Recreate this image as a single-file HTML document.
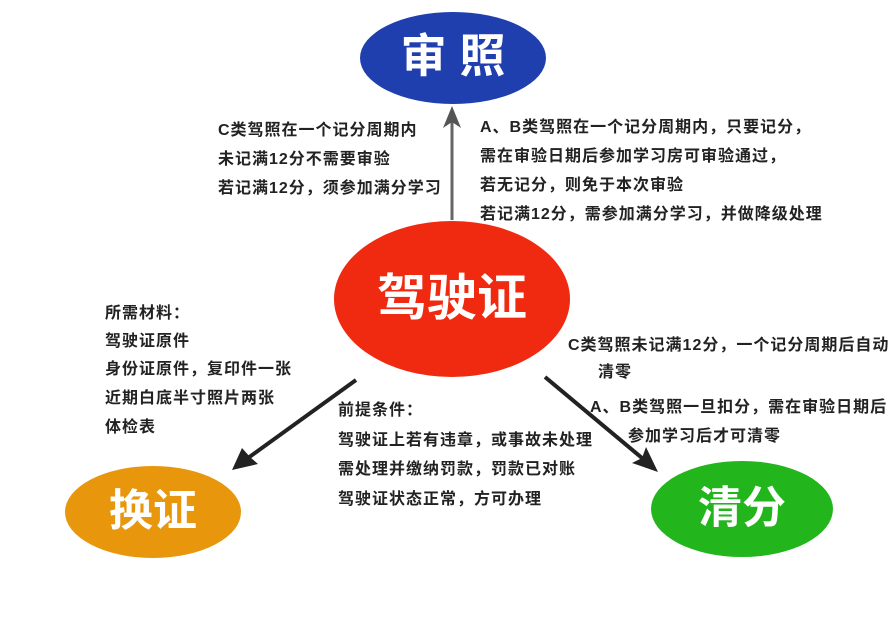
<!DOCTYPE html>
<html><head><meta charset="utf-8"><style>
body{margin:0;background:#fff;}
svg text{font-family:"Liberation Sans","Noto Sans CJK SC",sans-serif;}
.t{font-size:16px;font-weight:bold;fill:#222;dominant-baseline:middle;letter-spacing:1px;}
.big{font-weight:bold;fill:#fff;dominant-baseline:middle;text-anchor:middle;}
</style></head><body>
<svg width="896" height="616" viewBox="0 0 896 616" xmlns="http://www.w3.org/2000/svg">
<ellipse cx="453" cy="58" rx="93" ry="46" fill="#1f3fae"/>
<text class="big" x="453" y="60" font-size="46">审 照</text>
<ellipse cx="452" cy="299" rx="118" ry="78" fill="#f02a10"/>
<text class="big" x="452" y="302" font-size="50">驾驶证</text>
<ellipse cx="153" cy="512" rx="88" ry="46" fill="#e8960c"/>
<text class="big" x="153" y="514" font-size="44">换证</text>
<ellipse cx="742" cy="509" rx="91" ry="48" fill="#22b51c"/>
<text class="big" x="742" y="511" font-size="44">清分</text>

<line x1="452" y1="220" x2="452" y2="122" stroke="#666" stroke-width="3"/>
<polygon points="452,106 443,128 452,122 461,128" fill="#555"/>
<line x1="356" y1="380" x2="248" y2="458" stroke="#222" stroke-width="4"/>
<polygon points="232,470 242,448 250,457 258,464" fill="#222"/>
<line x1="545" y1="377" x2="642" y2="458" stroke="#222" stroke-width="4"/>
<polygon points="658,472 632,463 642,458 646,447" fill="#222"/>

<text class="t" x="218" y="131">C类驾照在一个记分周期内</text>
<text class="t" x="218" y="160">未记满12分不需要审验</text>
<text class="t" x="218" y="189">若记满12分，须参加满分学习</text>

<text class="t" x="480" y="128">A、B类驾照在一个记分周期内，只要记分，</text>
<text class="t" x="480" y="157">需在审验日期后参加学习房可审验通过，</text>
<text class="t" x="480" y="186">若无记分，则免于本次审验</text>
<text class="t" x="480" y="215">若记满12分，需参加满分学习，并做降级处理</text>

<text class="t" x="105" y="314">所需材料：</text>
<text class="t" x="105" y="342">驾驶证原件</text>
<text class="t" x="105" y="370">身份证原件，复印件一张</text>
<text class="t" x="105" y="399">近期白底半寸照片两张</text>
<text class="t" x="105" y="428">体检表</text>

<text class="t" x="338" y="411">前提条件：</text>
<text class="t" x="338" y="441">驾驶证上若有违章，或事故未处理</text>
<text class="t" x="338" y="470">需处理并缴纳罚款，罚款已对账</text>
<text class="t" x="338" y="500">驾驶证状态正常，方可办理</text>

<text class="t" x="568" y="346">C类驾照未记满12分，一个记分周期后自动</text>
<text class="t" x="598" y="373">清零</text>
<text class="t" x="590" y="408">A、B类驾照一旦扣分，需在审验日期后</text>
<text class="t" x="628" y="437">参加学习后才可清零</text>
</svg>
</body></html>
